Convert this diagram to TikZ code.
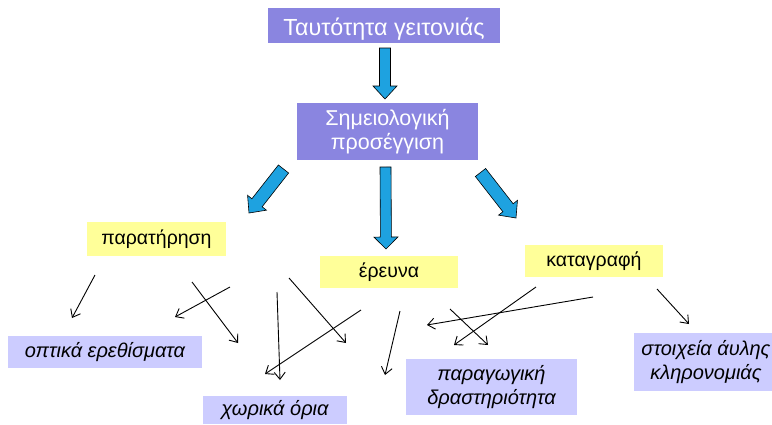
\documentclass[tikz,border=0pt]{standalone}
\usepackage{fontspec}
\setmainfont{Liberation Sans}
\usetikzlibrary{calc,arrows.meta}
\definecolor{purp}{RGB}{138,133,224}
\definecolor{yel}{RGB}{255,255,153}
\definecolor{lav}{RGB}{204,204,255}
\definecolor{arrblue}{RGB}{30,162,224}
\tikzset{
  purpbox/.style={fill=purp, text=white, inner sep=0pt, align=center, font=\fontsize{21.5}{24}\selectfont},
  yelbox/.style={fill=yel, inner sep=0pt, font=\fontsize{19.5}{23}\selectfont},
  lavbox/.style={fill=lav, inner sep=0pt, align=center, font=\fontsize{20}{24.5}\selectfont\itshape},
  thinarrow/.style={draw=black, line width=0.9pt, -{Straight Barb[length=7pt,width=11pt]}},
  bluearrow/.style={fill=arrblue, draw=black, line width=0.6pt, line join=miter},
}
\newcommand\blockarrow[5]{%
  \path ($(#2)!#5!(#1)$) coordinate (hb);
  \draw[bluearrow] ($(#1)!#3!90:(#2)$) -- ($(hb)!#3!90:(#2)$) -- ($(hb)!#4!90:(#2)$) -- (#2)
    -- ($(hb)!#4!-90:(#2)$) -- ($(hb)!#3!-90:(#2)$) -- ($(#1)!#3!-90:(#2)$) -- cycle;
}
\begin{document}
\begin{tikzpicture}[x=1pt,y=-1pt]
\useasboundingbox (0,0) rectangle (772,424);
% boxes
\node[purpbox, font=\fontsize{23.3}{26}\selectfont, text height=19pt, text depth=0pt, minimum width=232pt, minimum height=35pt] (title) at (384,25.5) {Ταυτότητα γειτονιάς};
\node[purpbox, minimum width=181pt, minimum height=57pt] (semio) at (387.5,131.5) {Σημειολογική\\προσέγγιση};
\node[yelbox, minimum width=139pt, minimum height=34pt] (obs) at (156.5,239) {παρατήρηση};
\node[yelbox, minimum width=138pt, minimum height=32pt] (res) at (389,272) {έρευνα};
\node[yelbox, minimum width=138pt, minimum height=32pt] (rec) at (594,261) {καταγραφή};
\node[lavbox, minimum width=194pt, minimum height=32pt] (vis) at (105,352) {οπτικά ερεθίσματα};
\node[lavbox, minimum width=144pt, minimum height=28pt] (spat) at (275,410) {χωρικά όρια};
\node[lavbox, minimum width=171pt, minimum height=56pt] (prod) at (491.5,387) {παραγωγική\\δραστηριότητα};
\node[lavbox, minimum width=138pt, minimum height=58pt] (herit) at (703,362) {\hspace*{6pt}στοιχεία άυλης\\\hspace*{6pt}κληρονομιάς};
% block arrows
\coordinate (d1a) at (385,48);   \coordinate (d1b) at (385,99);
\coordinate (d2a) at (385.5,167); \coordinate (d2b) at (386,249);
\coordinate (l1a) at (283.5,169); \coordinate (l1b) at (249,213);
\coordinate (r1a) at (480.5,172.5); \coordinate (r1b) at (516,218);
\blockarrow{d1a}{d1b}{5.5pt}{12pt}{13pt}
\blockarrow{d2a}{d2b}{5.5pt}{12pt}{12pt}
\blockarrow{l1a}{l1b}{6.5pt}{12pt}{13pt}
\blockarrow{r1a}{r1b}{6.5pt}{12pt}{13pt}
% thin arrows
\foreach \i/\sx/\sy/\ex/\ey in {1/95/275/72/318, 2/230/287/175/317, 3/192/282/238/343,
  4/277/292/280/380, 5/289/278/346/343, 6/361/310/265/374, 7/400/311/385/375,
  8/593/297/427/325, 9/536/287/454/345, 10/450/309/488/345, 11/657/289/689/324}{
  \coordinate (s\i) at (\sx,\sy);
  \coordinate (e\i) at (\ex,\ey);
  \draw[thinarrow] (s\i) -- (e\i);
}
\end{tikzpicture}
\end{document}
